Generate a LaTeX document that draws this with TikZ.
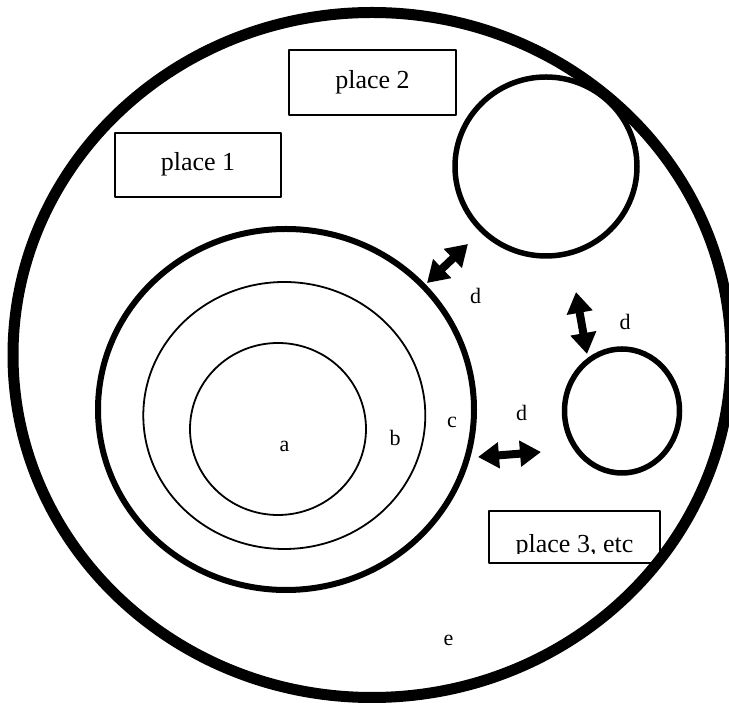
\documentclass[tikz,border=0pt]{standalone}
\usepackage{fontspec}
\setmainfont{Liberation Serif}
\usetikzlibrary{arrows.meta}

\begin{document}
\begin{tikzpicture}
% TikZ picture laid out in pixel units
\def\pxsz{0.5pt}
\providecommand{\cellRingWidth}{5.5pt}
\providecommand{\cellWallWidth}{3pt}
\providecommand{\cellPlaceWidth}{2.75pt}
\providecommand{\cellThinWidth}{0.9pt}
\providecommand{\cellBoxWidth}{1pt}
\begin{scope}[x=\pxsz, y=-\pxsz, line cap=round, line join=round,
  placebox/.style={draw, line width=\cellBoxWidth, inner sep=0pt,
    font=\fontsize{13}{15}\selectfont},
  partlabel/.style={inner sep=0pt, font=\fontsize{11}{13}\selectfont},
  movearrow/.style={line width=4pt, line cap=butt,
    {Triangle[length=10.5pt,width=12.5pt]}-{Triangle[length=10.5pt,width=12.5pt]}}]
  \useasboundingbox (0,0) rectangle (729,704);
  % Inner rings a and b
  \begin{scope}[line width=\cellThinWidth]
    \draw (278,429) ellipse [x radius=88, y radius=86];
    \draw (284.3,415.5) ellipse [x radius=141, y radius=133.5];
  \end{scope}
  % Wall c
  \draw[line width=\cellWallWidth] (286,409.5) ellipse [x radius=188, y radius=180.5];
  % Other places
  \begin{scope}[line width=\cellPlaceWidth]
    \draw (546,166.5) ellipse [x radius=91, y radius=89.5];
    \draw (622,411) ellipse [x radius=57.5, y radius=62];
  \end{scope}
  % Boxes
  \node[placebox, minimum width=83pt, minimum height=32pt] (place1) at (198,164.6) {place 1};
  \node[placebox, minimum width=83.5pt, minimum height=32.5pt] (place2) at (372.5,82.5) {place 2};
  \node[placebox, minimum width=85.5pt, minimum height=26pt] (place3) at (574.5,537) {};
  % Text of place 3 is cut by its box
  \begin{scope}
    \clip ([yshift=-1pt]place3.north west) rectangle ([yshift=5pt]place3.south east);
    \node[anchor=base, font=\fontsize{13}{15}\selectfont, inner sep=0pt] (place3text) at (574.5,553) {place 3, etc};
  \end{scope}
  % Outer boundary e
  \draw[line width=\cellRingWidth] (372,355) ellipse [x radius=359, y radius=342.5];
  % Labels
  \node[partlabel] (la) at (284.5,446) {a};
  \node[partlabel] (lb) at (395,438) {b};
  \node[partlabel] (lc) at (452,422) {c};
  \node[partlabel] (ld1) at (475.6,296) {d};
  \node[partlabel] (ld2) at (625,322) {d};
  \node[partlabel] (ld3) at (521.6,413) {d};
  \node[partlabel] (le) at (448.6,640) {e};
  % Exchange arrows
  \coordinate (wallne) at (427,283);
  \coordinate (toplace) at (468,244);
  \coordinate (topbase) at (576,292);
  \coordinate (smalltop) at (587,354);
  \coordinate (walle) at (478,457);
  \coordinate (smallw) at (541,452);
  \draw[movearrow] (wallne) -- (toplace);
  \draw[movearrow] (topbase) -- (smalltop);
  \draw[movearrow] (walle) -- (smallw);
\end{scope}
\end{tikzpicture}
\end{document}
